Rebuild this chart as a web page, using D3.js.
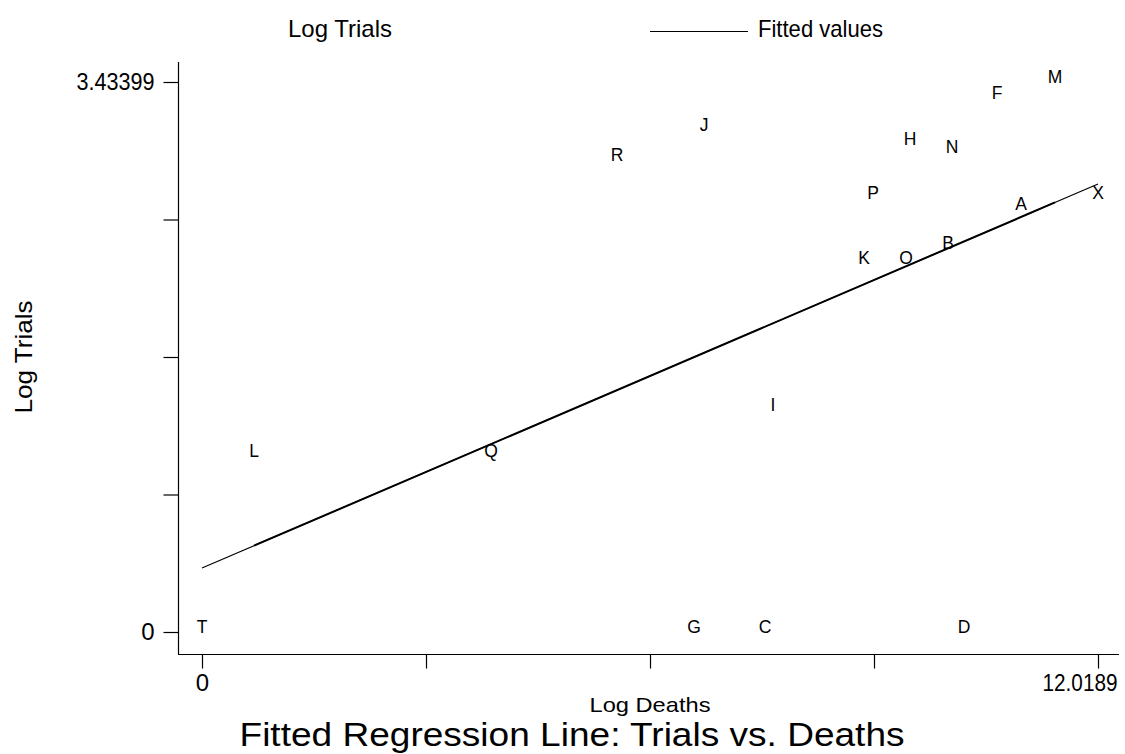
<!DOCTYPE html>
<html>
<head>
<meta charset="utf-8">
<script src="https://cdn.jsdelivr.net/npm/d3@7"></script>
<style>
  body { margin: 0; background: #fff; }
  svg { display: block; }
  text { font-family: "Liberation Sans", Arial, sans-serif; fill: #000; }
</style>
</head>
<body>
<svg id="chart"></svg>
<script>
// set svg params

var svgWidth = 1125, svgHeight = 754;

// chart data (letters are the marker labels)

var labels = ["A","B","C","D","F","G","H","I","J","K","L","M","N","O","P","Q","R","T","X"];
var logDeaths = [10.986, 10.007, 7.552, 10.221, 10.664, 6.600, 9.497, 7.659, 6.734, 8.880,
                 0.698, 11.442, 10.060, 9.443, 9.001, 3.877, 5.567, 0, 12.0189];
var logTrials = [2.6391, 2.3979, 0, 0, 3.3322, 0, 3.0445, 1.3863, 3.1355, 2.3026,
                 1.0986, 3.43399, 2.9957, 2.3026, 2.7081, 1.0986, 2.9444, 0, 2.7081];

// fitted regression line, read at both ends of the x range
var fitX = [0, 12.0189];
var fitY = [0.400, 2.797];

// axis ticks
var xTicks = [0, 3.0047, 6.0095, 9.0142, 12.0189];
var xTickLabels = ["0", "", "", "", "12.0189"];
var yTicks = [0, 0.8585, 1.717, 2.5755, 3.43399];
var yTickLabels = ["0", "", "", "", "3.43399"];

var legendLabels = ["Log Trials", "Fitted values"];

// scales

var xScale = d3.scaleLinear()
  .domain([0, 12.0189])
  .range([202, 1098]);

var yScale = d3.scaleLinear()
  .domain([0, 3.43399])
  .range([632, 82]);

var fitScale = d3.scaleLinear()
  .domain(fitX)
  .range(fitY);

var svg = d3.select("#chart")
  .attr("width", svgWidth)
  .attr("height", svgHeight);

// axis lines

svg.append("line")
  .attr("x1", 178.5).attr("x2", 178.5)
  .attr("y1", 62).attr("y2", 654)
  .attr("stroke", "#000").attr("stroke-width", 1.2);

svg.append("line")
  .attr("x1", 178).attr("x2", 1119)
  .attr("y1", 654.5).attr("y2", 654.5)
  .attr("stroke", "#000").attr("stroke-width", 1.2);

// y axis

var yAxis = svg.append("g")
  .attr("transform", "translate(178.5,0)")
  .call(d3.axisLeft(yScale)
    .tickValues(yTicks)
    .tickSize(15)
    .tickPadding(9)
    .tickFormat(function (d, i) { return yTickLabels[i]; }));
yAxis.select(".domain").remove();
yAxis.selectAll("line").attr("stroke", "#000").attr("stroke-width", 1.2);
yAxis.selectAll("text")
  .attr("font-family", "Liberation Sans, Arial, sans-serif")
  .attr("font-size", 24)
  .attr("fill", "#000")
  .attr("textLength", function (d, i) { return yTickLabels[i] == "0" ? null : 78; })
  .attr("lengthAdjust", "spacingAndGlyphs");

// x axis

var xAxis = svg.append("g")
  .attr("transform", "translate(0,654.5)")
  .call(d3.axisBottom(xScale)
    .tickValues(xTicks)
    .tickSize(14)
    .tickPadding(5)
    .tickFormat(function (d, i) { return xTickLabels[i]; }));
xAxis.select(".domain").remove();
xAxis.selectAll("line").attr("stroke", "#000").attr("stroke-width", 1.2);
xAxis.selectAll("text")
  .attr("font-family", "Liberation Sans, Arial, sans-serif")
  .attr("font-size", 24)
  .attr("fill", "#000");
// last label is pushed inside the frame
xAxis.selectAll("text")
  .filter(function (d, i) { return i == xTicks.length - 1; })
  .attr("text-anchor", "end")
  .attr("x", 19)
  .attr("textLength", 75)
  .attr("lengthAdjust", "spacingAndGlyphs");

// fitted line: thin over the full range, heavier where the
// data-order segments overlap (between the inner points)

var fitLine = d3.line()
  .x(function (d) { return xScale(d); })
  .y(function (d) { return yScale(fitScale(d)); });

var sortedX = logDeaths.slice().sort(d3.ascending);

svg.append("path")
  .datum(d3.extent(logDeaths))
  .attr("d", fitLine)
  .attr("fill", "none")
  .attr("stroke", "#000")
  .attr("stroke-width", 1.1);

svg.append("path")
  .datum([sortedX[1], sortedX[sortedX.length - 2]])
  .attr("d", fitLine)
  .attr("fill", "none")
  .attr("stroke", "#000")
  .attr("stroke-width", 2);

// letter markers

svg.append("g")
  .selectAll("text")
  .data(labels)
  .enter()
  .append("text")
  .attr("x", function (d, i) { return xScale(logDeaths[i]); })
  .attr("y", function (d, i) { return yScale(logTrials[i]) + 1; })
  .attr("text-anchor", "middle")
  .attr("font-size", 17.5)
  .text(function (d) { return d; });

// legend

svg.append("text")
  .attr("x", 288).attr("y", 37)
  .attr("font-size", 24)
  .attr("textLength", 104)
  .attr("lengthAdjust", "spacingAndGlyphs")
  .text(legendLabels[0]);

svg.append("line")
  .attr("x1", 650).attr("x2", 748)
  .attr("y1", 31.5).attr("y2", 31.5)
  .attr("stroke", "#000").attr("stroke-width", 1.2);

svg.append("text")
  .attr("x", 758).attr("y", 37)
  .attr("font-size", 24)
  .attr("textLength", 125)
  .attr("lengthAdjust", "spacingAndGlyphs")
  .text(legendLabels[1]);

// axis titles

svg.append("text")
  .attr("transform", "translate(32,357) rotate(-90)")
  .attr("text-anchor", "middle")
  .attr("font-size", 24)
  .attr("textLength", 113)
  .attr("lengthAdjust", "spacingAndGlyphs")
  .text("Log Trials");

svg.append("text")
  .attr("x", 650).attr("y", 712)
  .attr("text-anchor", "middle")
  .attr("font-size", 21)
  .attr("textLength", 121)
  .attr("lengthAdjust", "spacingAndGlyphs")
  .text("Log Deaths");

// title

svg.append("text")
  .attr("x", 572).attr("y", 746)
  .attr("text-anchor", "middle")
  .attr("font-size", 33)
  .attr("textLength", 665)
  .attr("lengthAdjust", "spacingAndGlyphs")
  .text("Fitted Regression Line: Trials vs. Deaths");
</script>
</body>
</html>
